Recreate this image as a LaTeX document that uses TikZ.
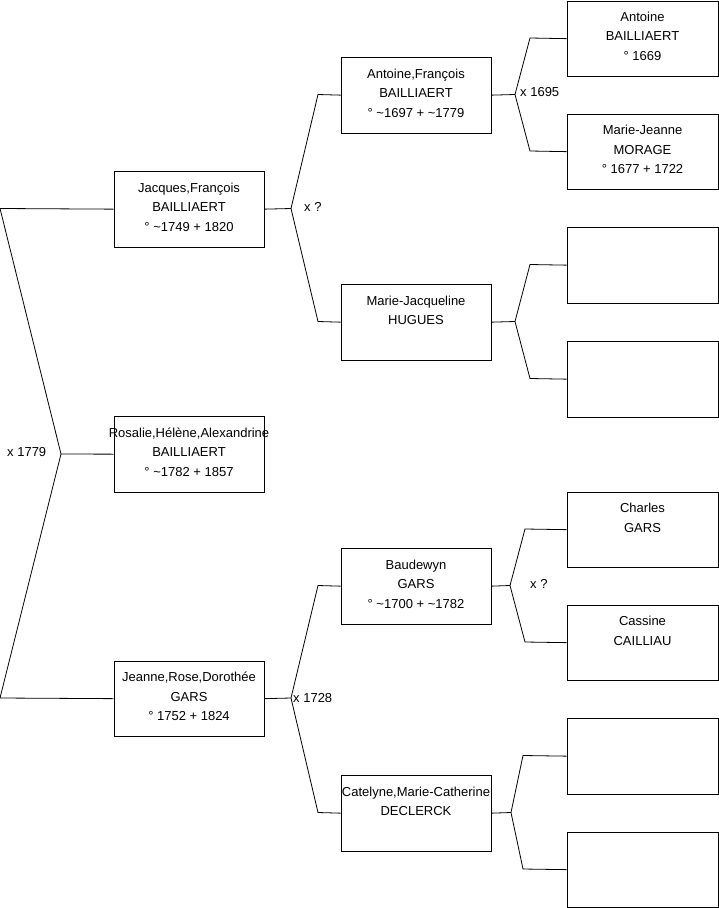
\documentclass[tikz,border=0pt]{standalone}
\usepackage{fontspec}
\setmainfont{Liberation Sans}
\begin{document}
\begin{tikzpicture}[x=1pt,y=-1pt,
  box/.style={draw=black,line width=0.8pt,minimum width=150pt,minimum height=75.5pt,inner sep=0pt,anchor=north},
  boxw/.style={box,minimum width=151pt},
  conn/.style={draw=black,line width=0.8pt},
  txt/.style={anchor=north,inner sep=0pt,font=\fontsize{13}{19.5}\selectfont},
  lbl/.style={anchor=west,inner sep=0pt,font=\fontsize{13}{15}\selectfont}]
\newcommand{\ptxt}[1]{\parbox[t]{180pt}{\centering\strut #1}}
\useasboundingbox (0,0) rectangle (719,908);
% generation 1
\node[box] (jf) at (189,171) {};
\node[box] (ro) at (189,416) {};
\node[box] (je) at (189,660.5) {};
% generation 2
\node[box] (af) at (416,57) {};
\node[box] (mj) at (416,284) {};
\node[box] (ba) at (416,548) {};
\node[box] (ca) at (416,775) {};
% generation 3
\node[boxw] (g1) at (642.5,0.5) {};
\node[boxw] (g2) at (642.5,113.5) {};
\node[boxw] (g3) at (642.5,227) {};
\node[boxw] (g4) at (642.5,341) {};
\node[boxw] (g5) at (642.5,491.5) {};
\node[boxw] (g6) at (642.5,604.5) {};
\node[boxw] (g7) at (642.5,718) {};
\node[boxw] (g8) at (642.5,831.5) {};
% texts
\node[txt] (tjf) at ([yshift=-7.2]jf.north) {\ptxt{Jacques,François\\BAILLIAERT\\° \textasciitilde1749 + 1820}};
\node[txt] (tro) at ([yshift=-7.2]ro.north) {\ptxt{Rosalie,Hélène,Alexandrine\\BAILLIAERT\\° \textasciitilde1782 + 1857}};
\node[txt] (tje) at ([yshift=-7.2]je.north) {\ptxt{Jeanne,Rose,Dorothée\\GARS\\° 1752 + 1824}};
\node[txt] (taf) at ([yshift=-7.2]af.north) {\ptxt{Antoine,François\\BAILLIAERT\\° \textasciitilde1697 + \textasciitilde1779}};
\node[txt] (tmj) at ([yshift=-7.2]mj.north) {\ptxt{Marie-Jacqueline\\HUGUES}};
\node[txt] (tba) at ([yshift=-7.2]ba.north) {\ptxt{Baudewyn\\GARS\\° \textasciitilde1700 + \textasciitilde1782}};
\node[txt] (tca) at ([yshift=-7.2]ca.north) {\ptxt{Catelyne,Marie-Catherine\\DECLERCK}};
\node[txt] (tg1) at ([yshift=-6.8]g1.north) {\ptxt{Antoine\\BAILLIAERT\\° 1669}};
\node[txt] (tg2) at ([yshift=-7.2]g2.north) {\ptxt{Marie-Jeanne\\MORAGE\\° 1677 + 1722}};
\node[txt] (tg5) at ([yshift=-7.2]g5.north) {\ptxt{Charles\\GARS}};
\node[txt] (tg6) at ([yshift=-7.2]g6.north) {\ptxt{Cassine\\CAILLIAU}};
% forks
\coordinate (f1) at (61,454);
\coordinate (f2) at (291,208.5);
\coordinate (f3) at (515,94.5);
\coordinate (f4) at (515,321.5);
\coordinate (f5) at (291,698);
\coordinate (f6) at (510,585.5);
\coordinate (f7) at (511,812.5);
\draw[conn] (jf.west) -- (0,208.5) -- (f1) -- (0,698) -- (je.west);
\draw[conn] (f1) -- (ro.west);
\draw[conn] (jf.east) -- (f2);
\draw[conn] (af.west) -- (318,94.5) -- (f2) -- (318,321.5) -- (mj.west);
\draw[conn] (af.east) -- (f3);
\draw[conn] (g1.west) -- (530,38) -- (f3) -- (530,151) -- (g2.west);
\draw[conn] (mj.east) -- (f4);
\draw[conn] (g3.west) -- (530,264.5) -- (f4) -- (530,378.5) -- (g4.west);
\draw[conn] (je.east) -- (f5);
\draw[conn] (ba.west) -- (318,585.5) -- (f5) -- (318,812.5) -- (ca.west);
\draw[conn] (ba.east) -- (f6);
\draw[conn] (g5.west) -- (525,529) -- (f6) -- (525,642) -- (g6.west);
\draw[conn] (ca.east) -- (f7);
\draw[conn] (g7.west) -- (523,755.5) -- (f7) -- (523,869) -- (g8.west);
% marriage labels
\node[lbl] (m1) at (7,452) {x 1779};
\node[lbl] (m2) at (304,207) {x ?};
\node[lbl] (m3) at (520,92) {x 1695};
\node[lbl] (m4) at (530,584) {x ?};
\node[lbl] (m5) at (293,698) {x 1728};
\end{tikzpicture}
\end{document}
